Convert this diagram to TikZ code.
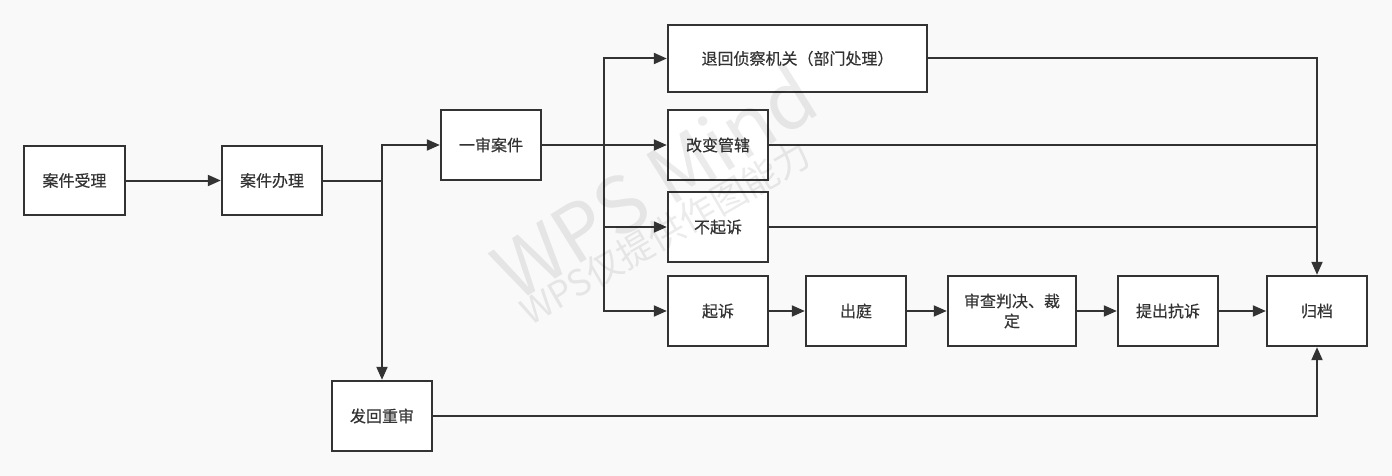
\documentclass[tikz,border=0pt]{standalone}
\usepackage{fontspec}
\setmainfont{Noto Sans CJK SC}
\newfontfamily\boxfont{Noto Sans CJK SC}[FakeBold=0.4]
\usetikzlibrary{arrows.meta}
\definecolor{bg}{HTML}{F9F9F9}
\definecolor{ink}{HTML}{333333}
\tikzset{
  box/.style={draw=ink, fill=white, line width=2.4pt, inner sep=0pt, text=ink,
    minimum width=100pt, minimum height=70pt, align=center,
    font=\boxfont\fontsize{16}{20}\selectfont},
  conn/.style={draw=ink, line width=2pt},
  arr/.style={conn, -{Triangle[length=13pt,width=11pt]}},
  wm/.style={text=black, opacity=0.08, inner sep=0pt}
}
\begin{document}
\begin{tikzpicture}[x=1pt,y=-1pt]
\fill[bg] (0,0) rectangle (1392,476);
\useasboundingbox (0,0) rectangle (1392,476);
% nodes
\node[box, minimum width=101pt, minimum height=69pt] (a1) at (74.5,180.5) {案件受理};
\node[box, minimum height=69pt] (a2) at (272,180.5) {案件办理};
\node[box] (a3) at (491,145) {一审案件};
\node[box, minimum width=259pt, minimum height=67pt] (b1) at (797.5,58.5) {退回侦察机关（部门处理）};
\node[box] (b2) at (718,145) {改变管辖};
\node[box] (b3) at (718,227) {不起诉};
\node[box] (b4) at (718,311) {起诉};
\node[box] (c1) at (856,311) {出庭};
\node[box, minimum width=128pt] (c2) at (1012,311) {审查判决、裁\\定};
\node[box] (c3) at (1168,311) {提出抗诉};
\node[box] (d) at (1317,311) {归档};
\node[box] (e) at (382,416) {发回重审};
% junctions
\coordinate (j1) at (382,180.5);
\coordinate (j2) at (604,145);
% connectors
\draw[arr] (a1) -- (a2);
\draw[conn] (a2.east) -- (j1);
\draw[arr] (j1) |- (a3.west);
\draw[arr] (j1) -- (e.north);
\draw[conn] (a3.east) -- (j2);
\draw[arr] (j2) |- (b1.west);
\draw[arr] (j2) -- (b2.west);
\draw[arr] (j2) |- (b3.west);
\draw[arr] (j2) |- (b4.west);
\draw[arr] (b4) -- (c1);
\draw[arr] (c1) -- (c2);
\draw[arr] (c2) -- (c3);
\draw[arr] (c3) -- (d);
\draw[arr] (b1.east) -| (d.north);
\draw[conn] (b2.east) -- (d.north |- b2.east);
\draw[conn] (b3.east) -- (d.north |- b3.east);
\draw[arr] (e.east) -| (d.south);
% watermark
\node[wm, rotate=32, font=\fontsize{78}{80}\selectfont] (w1) at (654,182) {WPS Mind};
\node[wm, rotate=30, font=\fontsize{36}{40}\selectfont] (w2) at (665,233) {WPS仅提供作图能力};
\end{tikzpicture}
\end{document}
